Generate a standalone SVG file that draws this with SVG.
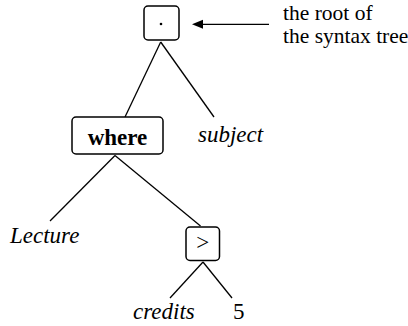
<svg xmlns="http://www.w3.org/2000/svg" width="408" height="326" viewBox="0 0 408 326">
<style>
.box{fill:#fff;stroke:#000;stroke-width:1.5}
.edge{stroke:#000;stroke-width:1.3;fill:none}
.t{font-family:"Liberation Serif","Times New Roman",serif;font-size:23px;fill:#000}
.i{font-style:italic}
.b{font-weight:bold}
.n{font-family:"Liberation Serif","Times New Roman",serif;font-size:21.5px;fill:#000}
</style>
<rect width="408" height="326" fill="#fff"/>
<g id="connectors">
<line class="edge" x1="160.7" y1="42" x2="125" y2="117"/>
<line class="edge" x1="160.7" y1="42" x2="214" y2="117"/>
<line class="edge" x1="115" y1="155.5" x2="50" y2="221"/>
<line class="edge" x1="115" y1="155.5" x2="200.5" y2="226"/>
<line class="edge" x1="203" y1="262" x2="170" y2="298"/>
<line class="edge" x1="203" y1="262" x2="232" y2="298"/>
<line class="edge" x1="269" y1="24.3" x2="200" y2="24.3" stroke-width="1.6"/>
<polygon points="192,24.3 203,19.8 203,28.8" fill="#000"/>
</g>
<g id="root">
<rect class="box" x="144" y="6" width="35" height="34" rx="4"/>
<circle cx="161" cy="24" r="1.3" fill="#000"/>
</g>
<g id="note">
<text class="n" x="283" y="20">the root of</text>
<text class="n" x="283" y="43">the syntax tree</text>
</g>
<g id="where">
<rect class="box" x="72" y="117" width="91" height="37" rx="4"/>
<text class="t b" x="117.5" y="145" text-anchor="middle">where</text>
</g>
<g id="subject">
<text class="t i" x="198" y="142">subject</text>
</g>
<g id="lecture">
<text class="t i" x="10" y="243">Lecture</text>
</g>
<g id="gt">
<rect class="box" x="186" y="227" width="33.5" height="33.5" rx="4"/>
<text class="t" x="202.7" y="250" text-anchor="middle">&gt;</text>
</g>
<g id="credits">
<text class="t i" x="133" y="319">credits</text>
</g>
<g id="five">
<text class="t" x="233" y="319">5</text>
</g>
</svg>
